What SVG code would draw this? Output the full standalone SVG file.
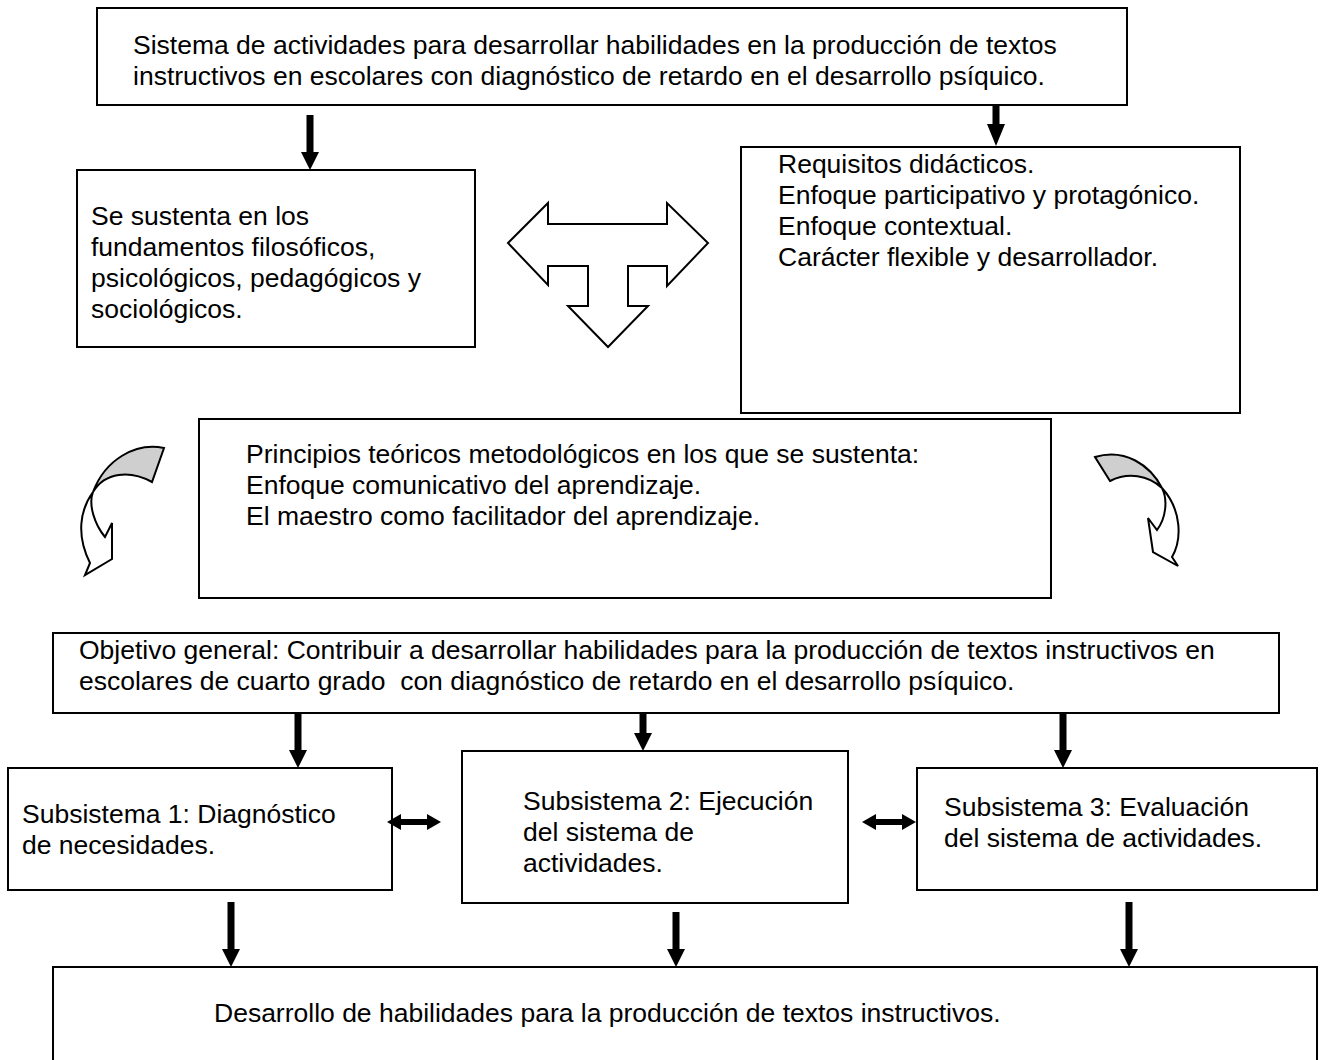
<svg xmlns="http://www.w3.org/2000/svg" width="1329" height="1060" viewBox="0 0 1329 1060">
<style>
.box{fill:#fff;stroke:#000;stroke-width:2}
.t{font-family:"Liberation Sans",Arial,sans-serif;font-size:26.5px;fill:#000}
.arr{fill:#000;stroke:none}
.big{fill:#fff;stroke:#000;stroke-width:2;stroke-linejoin:miter}
.gray{fill:#cfcfcf;stroke:#000;stroke-width:2}
</style>
<rect width="1329" height="1060" fill="#fff"/>
<g id="top">
<rect class="box" x="97" y="8" width="1030" height="97"/>
<text class="t" x="133" y="54">Sistema de actividades para desarrollar habilidades en la producción de textos</text>
<text class="t" x="133" y="85">instructivos en escolares con diagnóstico de retardo en el desarrollo psíquico.</text>
</g>
<g id="fundamentos">
<rect class="box" x="77" y="170" width="398" height="177"/>
<text class="t" x="91" y="225">Se sustenta en los</text>
<text class="t" x="91" y="256">fundamentos filosóficos,</text>
<text class="t" x="91" y="287">psicológicos, pedagógicos y</text>
<text class="t" x="91" y="318">sociológicos.</text>
</g>
<g id="requisitos">
<rect class="box" x="741" y="147" width="499" height="266"/>
<text class="t" x="778" y="173">Requisitos didácticos.</text>
<text class="t" x="778" y="204">Enfoque participativo y protagónico.</text>
<text class="t" x="778" y="235">Enfoque contextual.</text>
<text class="t" x="778" y="266">Carácter flexible y desarrollador.</text>
</g>
<g id="principios">
<rect class="box" x="199" y="419" width="852" height="179"/>
<text class="t" x="246" y="463">Principios teóricos metodológicos en los que se sustenta:</text>
<text class="t" x="246" y="494">Enfoque comunicativo del aprendizaje.</text>
<text class="t" x="246" y="525">El maestro como facilitador del aprendizaje.</text>
</g>
<g id="objetivo">
<rect class="box" x="53" y="633" width="1226" height="80"/>
<text class="t" x="79" y="659">Objetivo general: Contribuir a desarrollar habilidades para la producción de textos instructivos en</text>
<text class="t" x="79" y="690" xml:space="preserve">escolares de cuarto grado  con diagnóstico de retardo en el desarrollo psíquico.</text>
</g>
<g id="sub1">
<rect class="box" x="8" y="768" width="384" height="122"/>
<text class="t" x="22" y="823">Subsistema 1: Diagnóstico</text>
<text class="t" x="22" y="854">de necesidades.</text>
</g>
<g id="sub2">
<rect class="box" x="462" y="751" width="386" height="152"/>
<text class="t" x="523" y="810">Subsistema 2: Ejecución</text>
<text class="t" x="523" y="841">del sistema de</text>
<text class="t" x="523" y="872">actividades.</text>
</g>
<g id="sub3">
<rect class="box" x="917" y="768" width="400" height="122"/>
<text class="t" x="944" y="816">Subsistema 3: Evaluación</text>
<text class="t" x="944" y="847">del sistema de actividades.</text>
</g>
<g id="resultado">
<rect class="box" x="53" y="967" width="1264" height="100"/>
<text class="t" x="214" y="1022">Desarrollo de habilidades para la producción de textos instructivos.</text>
</g>
<g id="connectors">
<polygon class="arr" points="306.5,115 313.5,115 313.5,152 319,152 310,170 301,152 306.5,152"/>
<polygon class="arr" points="992.5,104 999.5,104 999.5,124 1005,124 996,146 987,124 992.5,124"/>
<polygon class="arr" points="294.5,713 301.5,713 301.5,750 307,750 298,768 289,750 294.5,750"/>
<polygon class="arr" points="639.5,713 646.5,713 646.5,733 652,733 643,751 634,733 639.5,733"/>
<polygon class="arr" points="1059.5,713 1066.5,713 1066.5,750 1072,750 1063,768 1054,750 1059.5,750"/>
<polygon class="arr" points="227.5,902 234.5,902 234.5,949 240,949 231,967 222,949 227.5,949"/>
<polygon class="arr" points="672.5,912 679.5,912 679.5,949 685,949 676,967 667,949 672.5,949"/>
<polygon class="arr" points="1125.5,902 1132.5,902 1132.5,949 1138,949 1129,967 1120,949 1125.5,949"/>
<polygon class="arr" points="387,822 401,814 401,819 427,819 427,814 441,822 427,830 427,825 401,825 401,830"/>
<polygon class="arr" points="862,822 876,814 876,819 902,819 902,814 916,822 902,830 902,825 876,825 876,830"/>
<polygon class="big" points="508,243 548,203 548,224 667,224 667,203 708,243 667,286 667,266 628,266 628,306 648,306 608,347 568,306 588,306 588,266 548,266 548,285"/>
<path class="gray" d="M164,448 C135,442 105,460 93,492 C105,472 130,470 152,482 Z"/>
<path class="big" d="M93,492 C80,510 76,535 90,563 L85,575 L112,559 L112,523 L105,537 C95,525 88,505 93,492 Z"/>
<path class="gray" d="M1095,457 C1125,448 1150,465 1162,488 C1148,475 1128,472 1110,481 Z"/>
<path class="big" d="M1162,488 C1182,510 1182,540 1172,557 L1178,566 L1153,552 L1148,518 L1157,530 C1166,518 1168,500 1162,488 Z"/>
</g>
</svg>
